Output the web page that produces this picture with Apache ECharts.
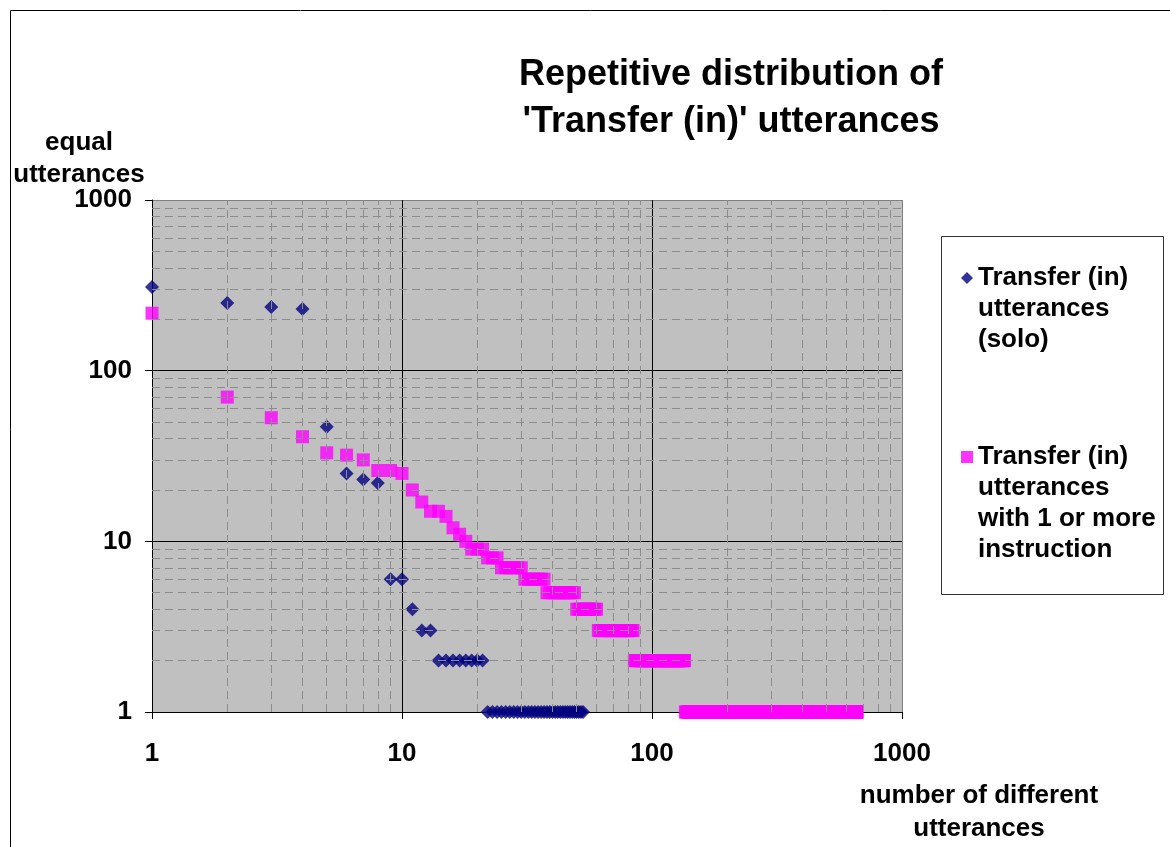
<!DOCTYPE html>
<html>
<head>
<meta charset="utf-8">
<script src="https://cdn.jsdelivr.net/npm/echarts@6/dist/echarts.min.js"></script>
<style>
  html, body { margin: 0; padding: 0; background: #ffffff; }
  #chart { width: 1170px; height: 847px; }
</style>
</head>
<body>
<div id="chart"></div>
<script>
// Rank-frequency data: each level is a repetition count, each run says how
// many consecutive ranks (1, 2, 3, ...) share that count.
const soloLevels = [309, 249, 236, 230, 47, 25, 23, 22, 6, 6, 4, 3, 3, 2, 1];
const soloRuns   = [1, 1, 1, 1, 1, 1, 1, 1, 1, 1, 1, 1, 1, 8, 32];

const instrLevels = [217, 70, 53, 41, 33, 32, 30, 26, 26, 25, 20, 17, 15, 15, 14, 12, 11, 10,
                     9, 8, 7, 6, 5, 4, 3, 2, 1];
const instrRuns   = [1, 1, 1, 1, 1, 1, 1, 1, 1, 1, 1, 1, 1, 1, 1, 1, 1, 1,
                     3, 3, 6, 7, 12, 11, 24, 51, 526];

const seriesNames = [
  'Transfer (in) utterances (solo)',
  'Transfer (in) utterances with 1 or more instruction'
];
const legendLines = {
  'Transfer (in) utterances (solo)': ['Transfer (in)', 'utterances', '(solo)'],
  'Transfer (in) utterances with 1 or more instruction': ['Transfer (in)', 'utterances', 'with 1 or more', 'instruction']
};

const decadeTicks = [1, 10, 100, 1000];
const tickLabels = ['1', '10', '100', '1000'];

const titleText = "Repetitive distribution of\n'Transfer (in)' utterances";
const xAxisTitle = 'number of different\nutterances';
const yAxisTitle = 'equal\nutterances';

// Expand runs into [rank, count] points.
function expandRuns(levels, runs) {
  const pts = [];
  let rank = 1;
  for (let i = 0; i < levels.length; i++) {
    for (let k = 0; k < runs[i]; k++) {
      pts.push([rank, levels[i]]);
      rank++;
    }
  }
  return pts;
}

const soloPoints = expandRuns(soloLevels, soloRuns);
const instrPoints = expandRuns(instrLevels, instrRuns);

// Dashed minor grid at 2..9 of every decade.
const minorValues = [];
for (let d = 0; d < decadeTicks.length - 1; d++) {
  for (let m = 2; m <= 9; m++) minorValues.push(decadeTicks[d] * m);
}

const FONT = 'Arial, "Liberation Sans", Helvetica, sans-serif';
const labelFmt = function (v) {
  const idx = decadeTicks.indexOf(Math.round(v));
  return idx >= 0 ? tickLabels[idx] : '';
};

// Legend text: the marker sits beside the first line, so blank lines are
// prepended to keep the marker at the block's vertical middle.
const legendFmt = function (name) {
  const lines = legendLines[name];
  const pad = new Array(lines.length).join('\n');
  return pad + lines.join('\n');
};

const chart = echarts.init(document.getElementById('chart'), null, { renderer: 'canvas' });

const axisCommon = {
  type: 'log',
  logBase: 10,
  min: decadeTicks[0],
  max: decadeTicks[decadeTicks.length - 1],
  splitNumber: 3,
  nameMoveOverlap: false,
  axisLine: { show: true, onZero: false, lineStyle: { color: '#000000', width: 1 } },
  axisTick: { show: true, inside: false, length: 7, lineStyle: { color: '#000000', width: 1 } },
  splitLine: {
    show: true,
    lineStyle: { color: ['#000000', '#000000', '#000000', '#808080'], width: 1, type: 'solid' }
  },
  minorTick: { show: false },
  minorSplitLine: { show: false }
};

const legendCommon = {
  orient: 'vertical',
  left: 961,
  padding: 0,
  itemWidth: 12,
  itemHeight: 12,
  selectedMode: false,
  formatter: legendFmt,
  textStyle: { fontFamily: FONT, fontSize: 26, fontWeight: 'bold', color: '#000000', lineHeight: 31 },
  itemStyle: { borderWidth: 0 }
};

const option = {
  animation: false,
  backgroundColor: '#ffffff',
  title: {
    text: titleText,
    left: 731,
    textAlign: 'center',
    top: 52,
    padding: 0,
    textStyle: {
      fontFamily: FONT,
      fontSize: 36,
      fontWeight: 'bold',
      color: '#000000',
      lineHeight: 47
    }
  },
  grid: {
    left: 152,
    right: 268,
    top: 200,
    bottom: 135,
    containLabel: false,
    outerBoundsMode: 'none',
    show: true,
    backgroundColor: '#C0C0C0',
    borderWidth: 0
  },
  xAxis: Object.assign({}, axisCommon, {
    name: xAxisTitle,
    nameLocation: 'end',
    nameGap: 0,
    nameTextStyle: {
      fontFamily: FONT,
      fontSize: 26,
      fontWeight: 'bold',
      color: '#000000',
      lineHeight: 33,
      align: 'center',
      verticalAlign: 'top',
      padding: [67, 0, 0, 154]
    },
    axisLabel: {
      show: true,
      margin: 29,
      fontFamily: FONT,
      fontSize: 26,
      fontWeight: 'bold',
      color: '#000000',
      showMinLabel: true,
      showMaxLabel: true,
      formatter: labelFmt
    }
  }),
  yAxis: Object.assign({}, axisCommon, {
    name: yAxisTitle,
    nameLocation: 'end',
    nameGap: 9,
    nameTextStyle: {
      fontFamily: FONT,
      fontSize: 26,
      fontWeight: 'bold',
      color: '#000000',
      lineHeight: 32,
      align: 'center',
      verticalAlign: 'bottom',
      padding: [0, 146, 0, 0]
    },
    axisLabel: {
      show: true,
      margin: 20,
      fontFamily: FONT,
      fontSize: 26,
      fontWeight: 'bold',
      color: '#000000',
      showMinLabel: true,
      showMaxLabel: true,
      formatter: labelFmt
    }
  }),
  legend: [
    Object.assign({}, legendCommon, {
      top: 278 - 77.5,
      data: [{ name: seriesNames[0], icon: 'diamond' }]
    }),
    Object.assign({}, legendCommon, {
      top: 457 - 108.5,
      data: [{ name: seriesNames[1], icon: 'rect' }]
    })
  ],
  graphic: [
    {
      type: 'rect',
      z: -10,
      silent: true,
      shape: { x: 10.5, y: 10.5, width: 1200, height: 900 },
      style: { fill: 'none', stroke: '#000000', lineWidth: 1 }
    },
    {
      type: 'rect',
      z: -10,
      silent: true,
      shape: { x: 941.5, y: 236.5, width: 222, height: 358 },
      style: { fill: '#ffffff', stroke: '#333333', lineWidth: 1 }
    }
  ],
  series: [
    {
      name: 'minor grid',
      type: 'scatter',
      data: [],
      z: 1,
      silent: true,
      markLine: {
        silent: true,
        symbol: ['none', 'none'],
        label: { show: false },
        emphasis: { disabled: true },
        lineStyle: { color: '#8c8c8c', width: 1, type: [8, 5] },
        data: minorValues.map(function (v) { return { xAxis: v }; })
          .concat(minorValues.map(function (v) { return { yAxis: v }; }))
      }
    },
    {
      name: seriesNames[0],
      type: 'scatter',
      z: 3,
      symbol: 'diamond',
      symbolSize: 14,
      itemStyle: { color: '#000080', borderWidth: 0 },
      emphasis: { disabled: true },
      data: soloPoints
    },
    {
      name: seriesNames[1],
      type: 'scatter',
      z: 4,
      symbol: 'rect',
      symbolSize: 13,
      itemStyle: { color: '#FF00FF', borderWidth: 0 },
      emphasis: { disabled: true },
      data: instrPoints
    }
  ]
};

chart.setOption(option);
</script>
</body>
</html>
